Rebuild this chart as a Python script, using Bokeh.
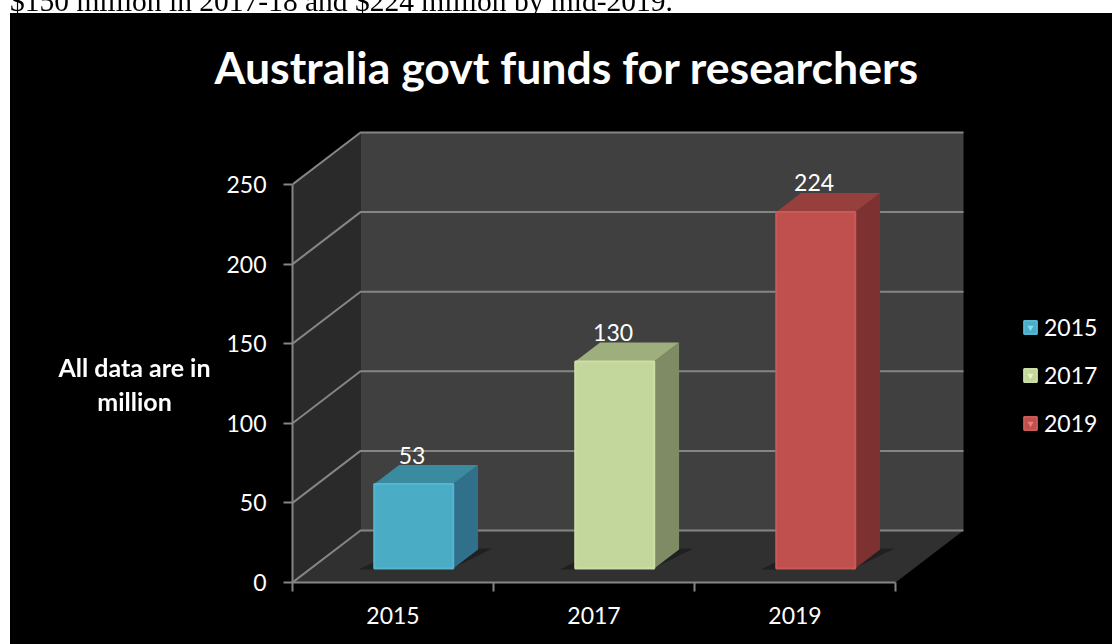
from bokeh.plotting import figure
from bokeh.embed import file_html
from bokeh.resources import INLINE
from bokeh.layouts import column
from bokeh.core.properties import value as val
from bokeh.models import (FixedTicker, Legend, LegendItem, Range1d, Title, Div)

categories = ["2015", "2017", "2019"]
values = [53, 130, 224]
y_ticks = [0, 50, 100, 150, 200, 250]
title_text = "Australia govt funds for researchers"
axis_note = "All data are in<br>million"
top_line = "$150 million in 2017-18 and $224 million by mid-2019."

front_c = ["#4bacc6", "#c3d69b", "#c0504d"]
side_c = ["#31708a", "#7f8b65", "#7d3231"]
top_c = ["#3a8aa0", "#9eae7d", "#973f3d"]
edge_c = ["#54b6d0", "#cbdea5", "#c95a57"]
tri_c = ["#7fdcf2", "#e6f2c8", "#ef7b78"]

FONT = "Lato"
W, H = 1102, 631
LEFT, TOP, BOTTOM = 282, 87, 62
PX_X, PX_Y = 201.0, 1.592
DX, DY = 68 / PX_X, 52 / PX_Y       # full floor depth, in data units
BAR_W, D0, D1 = 79 / PX_X, 14 / 52, 33 / 52

def proj(x, v, d):
    return x + DX * d, v + DY * d

p = figure(width=W, height=H, output_backend="svg", toolbar_location=None, margin=(13, 0, 0, 10),
           x_range=Range1d(0, (W - LEFT) / PX_X), y_range=Range1d(0, (H - TOP - BOTTOM) / PX_Y),
           min_border_left=LEFT, min_border_right=0, min_border_top=TOP, min_border_bottom=BOTTOM,
           border_fill_color="black", background_fill_color="black", outline_line_color=None,
           styles={"background-color": "black"})
p.xgrid.visible = False
p.ygrid.visible = False

title = Title(text=title_text, align="left", offset=-78, standoff=16, text_color="white",
              text_font=FONT, text_font_size="44.6px", text_font_style="bold")
p.add_layout(title, "above")

y_max, x_max = y_ticks[-1], len(categories)
# walls and floor
bx0, by0 = proj(0, 0, 1)
bx1, by1 = proj(0, y_max, 1)
rx0, ry0 = proj(x_max, 0, 1)
p.patch([0, bx0, bx1, 0], [0, by0, by1, y_max], fill_color="#2a2a2a", line_color=None)
p.patch([bx0, rx0, rx0, bx0], [by0, ry0, by1, by1], fill_color="#404040", line_color=None)
p.patch([0, x_max, rx0, bx0], [0, 0, ry0, by0], fill_color="#303030", line_color=None)
grid_col = "#858585"
p.multi_line([[0, bx0, rx0] for _ in y_ticks], [[v, v + DY, v + DY] for v in y_ticks],
             line_color=grid_col, line_width=2)

legend_items = []
for i, (cat, v) in enumerate(zip(categories, values)):
    c = i + 0.512
    x0, x1 = c - BAR_W / 2, c + BAR_W / 2
    # floor shadow
    s0 = proj(x0 - 0.07, 0, D0 - 0.02)
    s1 = proj(x1 - 0.01, 0, D0 - 0.02)
    s2 = proj(x1 + 0.065, 0, D1 + 0.02)
    s3 = proj(x0, 0, D1)
    p.patch([s0[0], s1[0], s2[0], s3[0]], [s0[1], s1[1], s2[1], s3[1]],
            fill_color="#151515", fill_alpha=0.6, line_color=None)
    a = proj(x0, 0, D0); b = proj(x1, 0, D0)
    e = proj(x0, v, D0); f = proj(x1, v, D0)
    g = proj(x1, 0, D1); h = proj(x1, v, D1); k = proj(x0, v, D1)
    p.patch([b[0], g[0], h[0], f[0]], [b[1], g[1], h[1], f[1]], fill_color=side_c[i], line_color=None)
    p.patch([e[0], f[0], h[0], k[0]], [e[1], f[1], h[1], k[1]], fill_color=top_c[i], line_color=None)
    # hidden behind the bar's front; only its legend glyph shows (the swatch's bevel)
    tri = p.scatter([c], [v / 2], marker="inverted_triangle", size=8, fill_color=tri_c[i], line_color=None)
    front = p.quad(left=[a[0]], right=[b[0]], bottom=[a[1]], top=[e[1]], fill_color=front_c[i],
                   line_color=edge_c[i], line_width=2)
    legend_items.append(LegendItem(label=cat, renderers=[front, tri]))
    p.text([(a[0] + b[0]) / 2 - 0.008], [e[1] + 18.2], text=[str(v)], text_color="white",
           text_font=val(FONT), text_font_size="23px", text_align="center", text_baseline="middle")

legend = Legend(items=legend_items, location=(730, 145), background_fill_alpha=0, border_line_color=None,
                glyph_width=16, glyph_height=16, label_standoff=6, spacing=20, margin=0, padding=0,
                label_text_color="white", label_text_font=FONT, label_text_font_size="23px")
p.add_layout(legend)

# axes
xa, ya = p.xaxis[0], p.yaxis[0]
xa.ticker = FixedTicker(ticks=[i + 0.5 for i in range(len(categories))],
                        minor_ticks=list(range(len(categories) + 1)))
xa.major_label_overrides = {i + 0.5: c for i, c in enumerate(categories)}
xa.bounds = (0, x_max)
xa.major_tick_line_color = None
xa.major_tick_out = 0
xa.major_tick_in = 0
xa.minor_tick_out = 9
xa.minor_tick_in = 0
xa.minor_tick_line_color = grid_col
xa.minor_tick_line_width = 2
xa.major_label_standoff = 15
ya.ticker = FixedTicker(ticks=y_ticks)
ya.bounds = (0, y_max)
ya.major_tick_out = 9
ya.major_tick_in = 0
ya.major_tick_line_color = grid_col
ya.major_tick_line_width = 2
ya.minor_tick_line_color = None
ya.major_label_standoff = 17
for ax in (xa, ya):
    ax.axis_line_color = grid_col
    ax.axis_line_width = 2
    ax.major_label_text_color = "white"
    ax.major_label_text_font = FONT
    ax.major_label_text_font_size = "23px"

note = Div(text=top_line, width=0, height=0,
           styles={"position": "fixed", "left": "5px", "top": "-25px", "white-space": "nowrap",
                   "font-family": "Liberation Serif", "font-size": "29.5px", "color": "black"})
axis_div = Div(text=axis_note, width=0, height=0,
               styles={"position": "fixed", "left": "29.5px", "top": "345px", "width": "200px", "z-index": "5",
                       "text-align": "center", "white-space": "nowrap", "line-height": "34px",
                       "font-family": FONT, "font-weight": "bold", "font-size": "25px", "color": "white"})

open("out.html", "w").write(file_html(column(note, axis_div, p), INLINE))
